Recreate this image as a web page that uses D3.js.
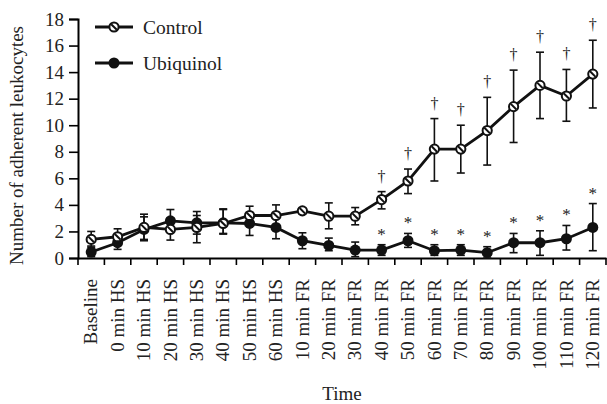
<!DOCTYPE html>
<html>
<head>
<meta charset="utf-8">
<script src="https://cdn.jsdelivr.net/npm/d3@7"></script>
<style>
  body { margin: 0; background: #fff; }
  svg { font-family: "Liberation Serif", "Times New Roman", serif; }
  text { fill: #222; }
</style>
</head>
<body>
<svg width="607" height="404"></svg>
<script>
const categories = ['Baseline', '0 min HS', '10 min HS', '20 min HS', '30 min HS', '40 min HS', '50 min HS', '60 min HS',
	'10 min FR', '20 min FR', '30 min FR', '40 min FR', '50 min FR', '60 min FR', '70 min FR', '80 min FR',
	'90 min FR', '100 min FR', '110 min FR', '120 min FR'];

const controlMean = [1.4, 1.6, 2.3, 2.15, 2.3, 2.6, 3.2, 3.2, 3.55, 3.15, 3.15, 4.4, 5.8, 8.2, 8.2, 9.6, 11.4, 13.0, 12.2, 13.85];
const controlHigh = [2.0, 2.2, 3.3, 3.0, 3.2, 3.7, 3.9, 4.0, 3.75, 4.15, 3.8, 5.0, 6.7, 10.5, 10.0, 12.1, 14.15, 15.5, 14.2, 16.4];
const controlLow  = [0.8, 1.0, 1.3, 1.35, 1.15, 1.8, 2.5, 2.5, 3.35, 2.2, 2.5, 3.7, 4.85, 5.8, 6.4, 7.0, 8.7, 10.5, 10.3, 11.3];

const ubiqMean = [0.45, 1.15, 2.15, 2.8, 2.65, 2.65, 2.6, 2.3, 1.3, 0.95, 0.6, 0.6, 1.3, 0.55, 0.6, 0.4, 1.15, 1.15, 1.45, 2.3];
const ubiqHigh = [0.9, 1.6, 3.1, 3.65, 3.5, 3.65, 3.3, 3.1, 1.9, 1.5, 1.2, 1.0, 1.85, 1.0, 1.0, 0.85, 1.85, 2.05, 2.45, 4.1];
const ubiqLow  = [0.1, 0.65, 1.4, 2.0, 1.8, 1.85, 1.7, 1.45, 0.7, 0.55, 0.1, 0.2, 0.8, 0.2, 0.2, 0.0, 0.4, 0.2, 0.6, 0.55];

// significance marks (from 40 min FR on)
const daggerIdx = [11, 12, 13, 14, 15, 16, 17, 18, 19];
const starIdx = [11, 12, 13, 14, 15, 16, 17, 18, 19];

const yTicks = [0, 2, 4, 6, 8, 10, 12, 14, 16, 18];

const svg = d3.select('svg');
const margin = { top: 19, right: 1, bottom: 146, left: 78 };
const width = 607, height = 404;

const x = d3.scaleBand().domain(categories).range([margin.left, width - margin.right]);
const y = d3.scaleLinear().domain([0, 18]).range([height - margin.bottom, margin.top]);
const cx = d => x(d) + x.bandwidth() / 2;

// axes
const yAxis = svg.append('g')
	.attr('transform', `translate(${margin.left},0)`)
	.call(d3.axisLeft(y).tickValues(yTicks).tickSize(9).tickPadding(5));
yAxis.select('.domain').attr('stroke-width', 2);
yAxis.selectAll('.tick line').attr('stroke-width', 1.6);
yAxis.selectAll('text').attr('font-size', 19).attr('font-family', 'Liberation Serif').attr('fill', '#222');

const xAxis = svg.append('g')
	.attr('transform', `translate(0,${y(0)})`)
	.call(d3.axisBottom(x).tickSize(0).tickSizeOuter(0));
xAxis.select('.domain').attr('stroke-width', 2);
xAxis.selectAll('.tick text')
	.attr('font-size', 19)
	.attr('font-family', 'Liberation Serif')
	.attr('fill', '#222')
	.attr('text-anchor', 'end')
	.attr('transform', 'rotate(-90)')
	.attr('x', -21)
	.attr('y', 0)
	.attr('dy', '0.33em');

// tick marks at the band edges
svg.append('g').selectAll('line')
	.data(categories)
	.enter().append('line')
	.attr('x1', d => x(d) + x.bandwidth())
	.attr('x2', d => x(d) + x.bandwidth())
	.attr('y1', y(0))
	.attr('y2', y(0) + 7)
	.attr('stroke', '#000')
	.attr('stroke-width', 1.6);
svg.append('line')
	.attr('x1', margin.left).attr('x2', margin.left)
	.attr('y1', y(0)).attr('y2', y(0) + 7)
	.attr('stroke', '#000').attr('stroke-width', 1.6);

// axis titles
svg.append('text')
	.attr('transform', `translate(23,${(margin.top + y(0)) / 2 + 7}) rotate(-90)`)
	.attr('text-anchor', 'middle')
	.attr('font-size', 19)
	.text('Number of adherent leukocytes');

svg.append('text')
	.attr('x', 342)
	.attr('y', 400)
	.attr('text-anchor', 'middle')
	.attr('font-size', 19)
	.text('Time');

// series
const drawSeries = (mean, low, high, filled) => {
	const g = svg.append('g');
	const pts = categories.map((c, i) => ({ c, m: mean[i], lo: low[i], hi: high[i] }));

	const bars = g.selectAll('g.err').data(pts).enter().append('g')
		.attr('stroke', '#111').attr('stroke-width', 1.6);
	bars.append('line')
		.attr('x1', d => cx(d.c)).attr('x2', d => cx(d.c))
		.attr('y1', d => y(d.lo)).attr('y2', d => y(d.hi));
	bars.append('line')
		.attr('x1', d => cx(d.c) - 4).attr('x2', d => cx(d.c) + 4)
		.attr('y1', d => y(d.hi)).attr('y2', d => y(d.hi));
	bars.append('line')
		.attr('x1', d => cx(d.c) - 4).attr('x2', d => cx(d.c) + 4)
		.attr('y1', d => y(d.lo)).attr('y2', d => y(d.lo));

	g.append('path')
		.datum(pts)
		.attr('fill', 'none')
		.attr('stroke', '#111')
		.attr('stroke-width', 2.8)
		.attr('d', d3.line().x(d => cx(d.c)).y(d => y(d.m)));

	const mk = g.selectAll('g.mk').data(pts).enter().append('g')
		.attr('transform', d => `translate(${cx(d.c)},${y(d.m)})`);
	drawMarker(mk, filled);
};

function drawMarker(sel, filled) {
	if (filled) {
		sel.append('circle').attr('r', 5.5).attr('fill', '#111');
	} else {
		sel.append('circle').attr('r', 4.6).attr('fill', '#fff').attr('stroke', '#111').attr('stroke-width', 2);
		sel.append('line')
			.attr('x1', -2.8).attr('y1', -2.8).attr('x2', 2.8).attr('y2', 2.8)
			.attr('stroke', '#111').attr('stroke-width', 2);
	}
}

drawSeries(ubiqMean, ubiqLow, ubiqHigh, true);
drawSeries(controlMean, controlLow, controlHigh, false);

// significance symbols
svg.append('g').selectAll('text')
	.data(daggerIdx)
	.enter().append('text')
	.attr('x', i => cx(categories[i]))
	.attr('y', i => y(controlHigh[i]) - 10)
	.attr('text-anchor', 'middle')
	.attr('font-size', 16)
	.text('\u2020');

svg.append('g').selectAll('text')
	.data(starIdx)
	.enter().append('text')
	.attr('x', i => cx(categories[i]))
	.attr('y', i => y(ubiqHigh[i]) - 5)
	.attr('text-anchor', 'middle')
	.attr('font-size', 17)
	.text('*');

// legend
const legend = svg.append('g');
const legendItems = [
	{ label: 'Control', filled: false, y: 27 },
	{ label: 'Ubiquinol', filled: true, y: 63 }
];
const li = legend.selectAll('g').data(legendItems).enter().append('g')
	.attr('transform', d => `translate(0,${d.y})`);
li.append('line')
	.attr('x1', 95).attr('x2', 133)
	.attr('stroke', '#111').attr('stroke-width', 2.8);
li.each(function (d) {
	const m = d3.select(this).append('g').attr('transform', 'translate(114,0)');
	drawMarker(m, d.filled);
});
li.append('text')
	.attr('x', 143)
	.attr('y', 7)
	.attr('font-size', 19.5)
	.text(d => d.label);
</script>
</body>
</html>
